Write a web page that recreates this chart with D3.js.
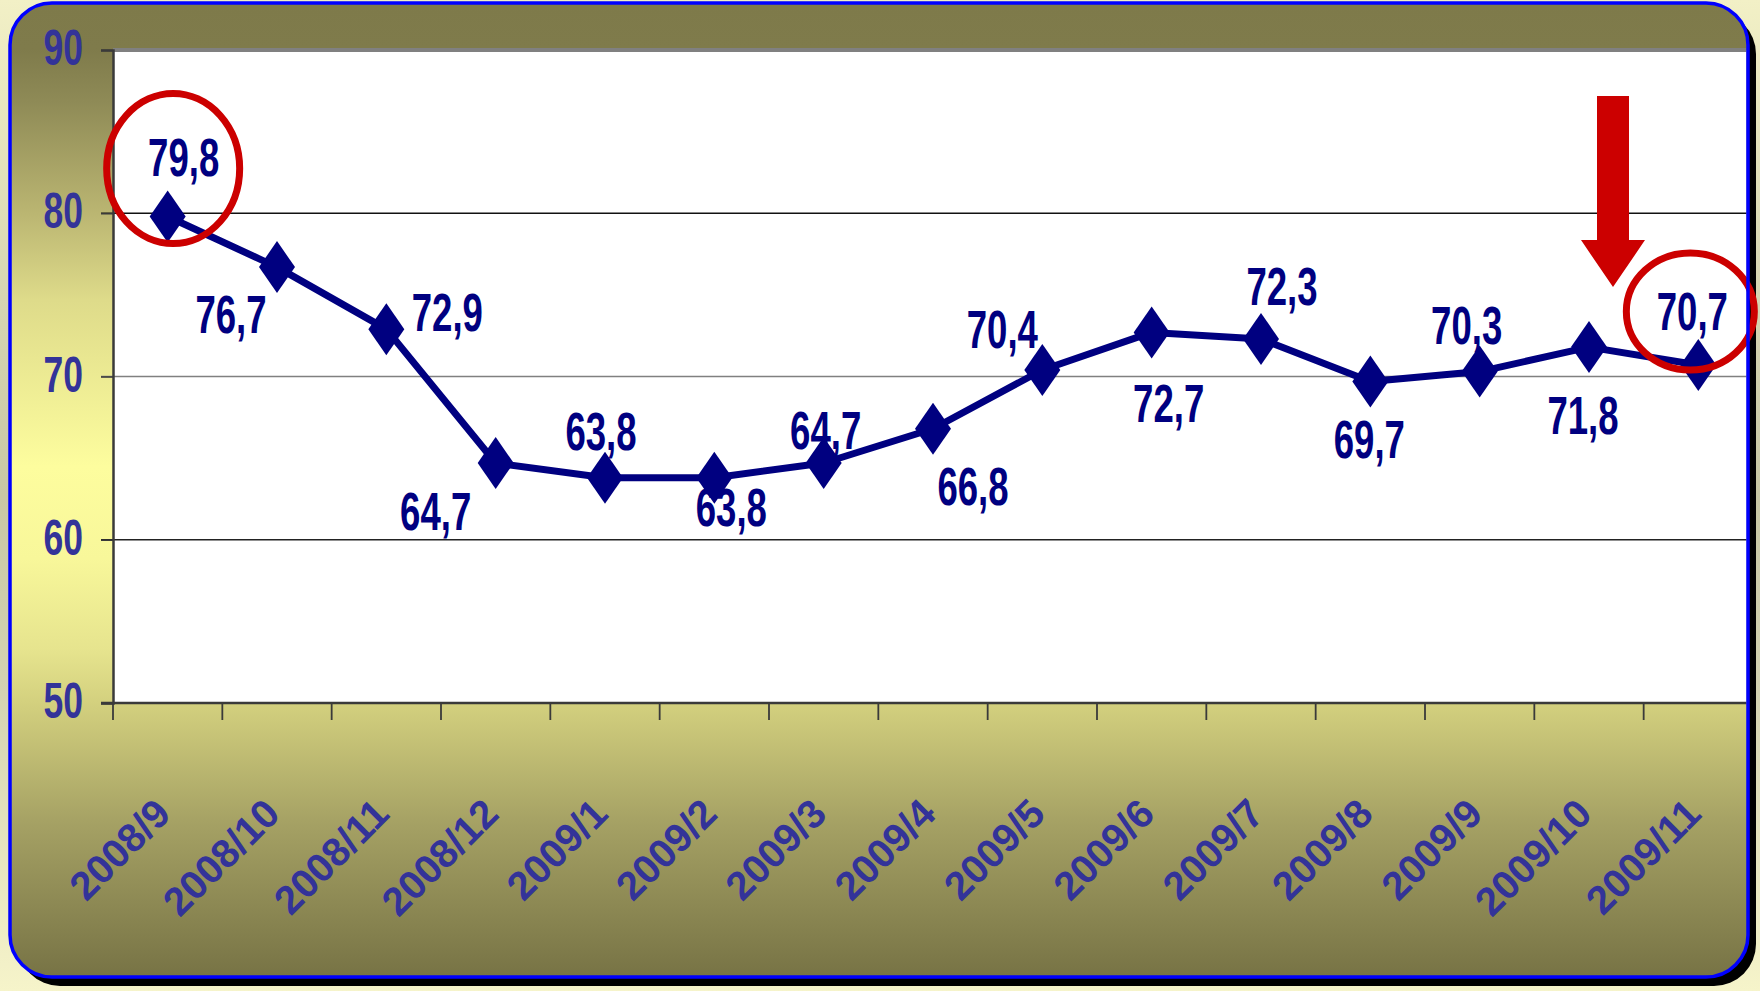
<!DOCTYPE html>
<html>
<head>
<meta charset="utf-8">
<script src="https://cdn.jsdelivr.net/npm/d3@7/dist/d3.min.js"></script>
<style>
  html, body { margin: 0; padding: 0; background: #f5f3c8; }
  svg { display: block; }
  text { font-family: "Liberation Sans", Arial, sans-serif; font-weight: bold; }
</style>
</head>
<body>
<svg id="chart" width="1760" height="991"></svg>
<script>
// data
const categories = ["2008/9", "2008/10", "2008/11", "2008/12", "2009/1", "2009/2", "2009/3", "2009/4",
  "2009/5", "2009/6", "2009/7", "2009/8", "2009/9", "2009/10", "2009/11"];
const values = [79.8, 76.7, 72.9, 64.7, 63.8, 63.8, 64.7, 66.8, 70.4, 72.7, 72.3, 69.7, 70.3, 71.8, 70.7];
const yTicks = [50, 60, 70, 80, 90];
const highlighted = [0, 14];   // points circled in red
const arrowAt = 13;            // the red arrow points at this month

// where each data label sits relative to its marker (Excel auto placement)
const labelOffsets = [[16, -60], [-46, 47], [61, -17], [-60, 48], [-4, -47], [17, 29], [2, -33], [40, 57],
  [-40, -41], [17, 70], [21, -53], [-1, 58], [-13, -47], [-6, 68], [-6, -54]];

const fmt = v => v.toFixed(1).replace(".", ",");

const svg = d3.select("#chart");
const W = 1760, H = 991;
const frame = { x: 10, y: 3, w: 1738, h: 974, r: 42 };
const plot = { left: 113, right: 1753, top: 50, bottom: 703 };

const defs = svg.append("defs");

// page background, greyish band on the left
const bg = defs.append("linearGradient").attr("id", "bg").attr("x1", 0).attr("y1", 0).attr("x2", 0).attr("y2", 1);
[[0, "#f2f0c6"], [0.3, "#d6d5b2"], [0.5, "#c8c7a4"], [0.7, "#d4d3b2"], [1, "#f6f4ca"]]
  .forEach(([o, c]) => bg.append("stop").attr("offset", o).attr("stop-color", c));

// frame fill: olive - light yellow - olive
const fill = defs.append("linearGradient").attr("id", "fill").attr("x1", 0).attr("y1", 0).attr("x2", 0).attr("y2", 1);
[[0, "#7e7a4a"], [0.048, "#7f7b4b"], [0.1, "#8e8a56"], [0.217, "#bbb672"], [0.305, "#dedb8a"],
 [0.476, "#fdfd9e"], [0.57, "#f8f79a"], [0.664, "#e6e48e"], [0.719, "#d3d07e"], [0.842, "#a5a164"],
 [1, "#777345"]]
  .forEach(([o, c]) => fill.append("stop").attr("offset", o).attr("stop-color", c));

defs.append("clipPath").attr("id", "inside")
  .append("rect").attr("x", frame.x + 1.5).attr("y", frame.y + 1.5)
  .attr("width", frame.w - 3).attr("height", frame.h - 3).attr("rx", frame.r);

svg.append("rect").attr("width", W).attr("height", H).attr("fill", "url(#bg)");

// shadow + frame
svg.append("rect")
  .attr("x", frame.x + 8).attr("y", frame.y + 9).attr("width", frame.w).attr("height", frame.h)
  .attr("rx", frame.r).attr("fill", "#000");
svg.append("rect")
  .attr("x", frame.x).attr("y", frame.y).attr("width", frame.w).attr("height", frame.h)
  .attr("rx", frame.r).attr("fill", "url(#fill)");

const x = d3.scaleBand().domain(categories).range([plot.left, plot.right]);
const y = d3.scaleLinear().domain([50, 90]).range([plot.bottom, plot.top]);
const cx = c => x(c) + x.bandwidth() / 2;

const inner = svg.append("g").attr("clip-path", "url(#inside)");

inner.append("rect")
  .attr("x", plot.left).attr("y", plot.top)
  .attr("width", plot.right - plot.left).attr("height", plot.bottom - plot.top)
  .attr("fill", "#fff");
inner.append("line")
  .attr("x1", plot.left).attr("x2", plot.right).attr("y1", plot.top).attr("y2", plot.top)
  .attr("stroke", "#808080").attr("stroke-width", 4);

// gridlines with outward ticks
const gridColor = { 60: "#222", 70: "#808080", 80: "#111" };
inner.selectAll("line.grid")
  .data(yTicks.filter(t => t > 50 && t < 90))
  .join("line")
  .attr("class", "grid")
  .attr("x1", plot.left - 12).attr("x2", plot.right)
  .attr("y1", d => y(d)).attr("y2", d => y(d))
  .attr("stroke", d => gridColor[d]).attr("stroke-width", 1.3);

// y axis
const yAxis = inner.append("g")
  .attr("transform", `translate(${plot.left},0)`)
  .call(d3.axisLeft(y).tickValues(yTicks).tickSize(12).tickFormat(""));
yAxis.select(".domain").attr("stroke", "#3a3a3a").attr("stroke-width", 2.5);
yAxis.selectAll(".tick line").attr("stroke", "#3a3a3a").attr("stroke-width", 1.5);

// x axis, ticks at the band edges
const edges = categories.map(c => x(c)).concat([plot.right]);
inner.append("line")
  .attr("x1", plot.left - 12).attr("x2", plot.right)
  .attr("y1", plot.bottom).attr("y2", plot.bottom)
  .attr("stroke", "#3a3a3a").attr("stroke-width", 2.5);
inner.selectAll("line.xtick")
  .data(edges)
  .join("line")
  .attr("class", "xtick")
  .attr("x1", d => d).attr("x2", d => d)
  .attr("y1", plot.bottom).attr("y2", plot.bottom + 17)
  .attr("stroke", "#3a3a3a").attr("stroke-width", 1.8);

// y tick labels (narrow bold)
svg.selectAll("text.ylab")
  .data(yTicks)
  .join("text")
  .attr("class", "ylab")
  .attr("transform", d => `translate(83,${y(d) - 3}) scale(0.71,1)`)
  .attr("text-anchor", "end")
  .attr("dy", "0.36em")
  .attr("font-size", 50)
  .attr("fill", "#333399")
  .text(d => d);

// x tick labels, rotated
svg.selectAll("text.xlab")
  .data(categories)
  .join("text")
  .attr("class", "xlab")
  .attr("transform", d => `translate(${cx(d) + 5},816) rotate(-45)`)
  .attr("text-anchor", "end")
  .attr("font-size", 40)
  .attr("fill", "#333399")
  .text(d => d);

// the series
const pts = categories.map((c, i) => ({ c, v: values[i], i }));
inner.append("path")
  .datum(pts)
  .attr("fill", "none")
  .attr("stroke", "#000080")
  .attr("stroke-width", 7)
  .attr("stroke-linejoin", "round")
  .attr("d", d3.line().x(d => cx(d.c)).y(d => y(d.v)));

const dw = 18, dh = 26;
inner.selectAll("path.marker")
  .data(pts)
  .join("path")
  .attr("class", "marker")
  .attr("transform", d => `translate(${cx(d.c)},${y(d.v)})`)
  .attr("d", `M0,${-dh}L${dw},0L0,${dh}L${-dw},0Z`)
  .attr("fill", "#000080");

svg.selectAll("text.vlab")
  .data(pts)
  .join("text")
  .attr("class", "vlab")
  .attr("transform", d => `translate(${cx(d.c) + labelOffsets[d.i][0]},${y(d.v) + labelOffsets[d.i][1]}) scale(0.69,1)`)
  .attr("text-anchor", "middle")
  .attr("dy", "0.36em")
  .attr("font-size", 53)
  .attr("fill", "#000080")
  .text(d => fmt(d.v));

// red annotations
const ellipses = [[5.5, -48, 66.5, 75], [-8, -53.5, 64, 58.5]];
svg.selectAll("ellipse.hl")
  .data(highlighted)
  .join("ellipse")
  .attr("class", "hl")
  .attr("cx", (d, k) => cx(categories[d]) + ellipses[k][0])
  .attr("cy", (d, k) => y(values[d]) + ellipses[k][1])
  .attr("rx", (d, k) => ellipses[k][2])
  .attr("ry", (d, k) => ellipses[k][3])
  .attr("fill", "none")
  .attr("stroke", "#cc0000")
  .attr("stroke-width", 7);

const ax = cx(categories[arrowAt]) + 24;
const arrowTip = y(values[arrowAt]) - 60;
const arrowTop = plot.top + 46, arrowBase = arrowTip - 47;
svg.append("path")
  .attr("d", `M${ax - 16},${arrowTop}H${ax + 16}V${arrowBase}H${ax + 32}L${ax},${arrowTip}L${ax - 32},${arrowBase}H${ax - 16}Z`)
  .attr("fill", "#cc0000");

// frame border on top
svg.append("rect")
  .attr("x", frame.x).attr("y", frame.y).attr("width", frame.w).attr("height", frame.h)
  .attr("rx", frame.r).attr("fill", "none")
  .attr("stroke", "#0000ff").attr("stroke-width", 3.5);
</script>
</body>
</html>
